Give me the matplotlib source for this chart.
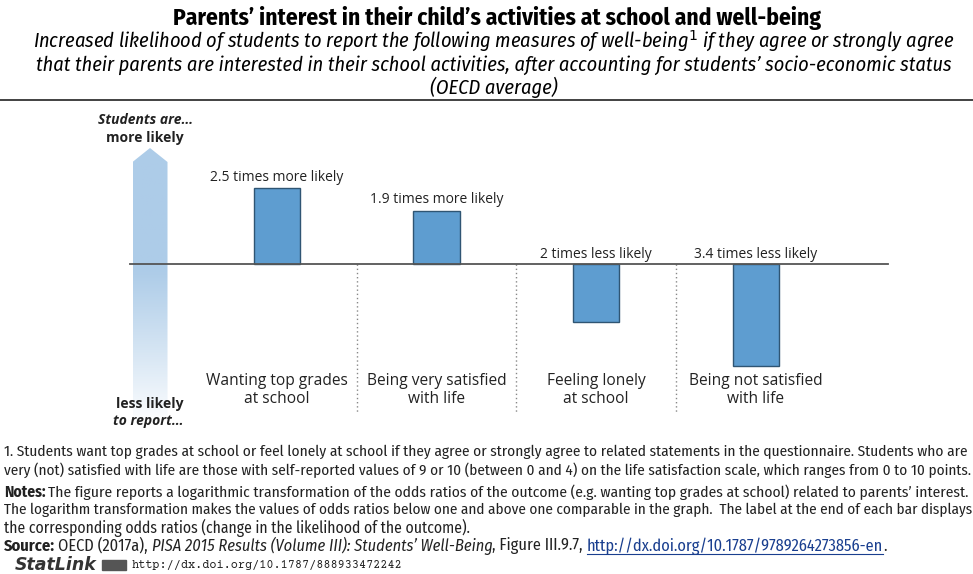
import numpy as np
import matplotlib
matplotlib.use("Agg")
import matplotlib.pyplot as plt
from matplotlib import font_manager as fm
from matplotlib.path import Path
from matplotlib.patches import PathPatch, Rectangle
from matplotlib.lines import Line2D

# Outcomes and their odds ratios (OECD average)
categories = ["Wanting top grades\nat school", "Being very satisfied\nwith life",
              "Feeling lonely\nat school", "Being not satisfied\nwith life"]
odds_ratios = [2.5, 1.9, 1 / 2, 1 / 3.4]

W, H = 973, 574
fig = plt.figure(figsize=(W / 100, H / 100), dpi=100)
fig.patch.set_facecolor("white")

installed = set(fm.fontManager.get_font_names())


def pick(cands, default="DejaVu Sans"):
    for c in cands:
        if c in installed:
            return [c, default]
    return [default]


NARROW = pick(["Fira Sans Condensed", "PT Sans Narrow", "Roboto Condensed", "Archivo Narrow",
               "Liberation Sans Narrow", "Open Sans Condensed", "Asap Condensed"])
LABEL = pick(["Open Sans", "Noto Sans"])
MONO = pick(["Courier Prime", "Liberation Mono", "DejaVu Sans Mono"], "DejaVu Sans Mono")

fig.canvas.draw()
R = fig.canvas.get_renderer()


def fx(x):
    return x / W


def fy(y):
    return 1 - y / H


def fit(t, target_px):
    """Scale a text's font size so its rendered width is target_px."""
    w = t.get_window_extent(R).width
    t.set_fontsize(t.get_fontsize() * target_px / w)
    return t


# ---- titles -------------------------------------------------------------
t = fig.text(fx(497), fy(18), "Parents\u2019 interest in their child\u2019s activities at school and well-being",
             ha="center", va="center", fontsize=14.5, fontweight="bold", family=NARROW)
fit(t, 650)
t = fig.text(fx(494), fy(63),
             "Increased likelihood of students to report the following measures of well-being$^{1}$ if they agree or strongly agree\n"
             "that their parents are interested in their school activities, after accounting for students\u2019 socio-economic status\n"
             "(OECD average)",
             ha="center", va="center", fontsize=13, style="italic", family=NARROW, linespacing=1.1)
fit(t, 922)
fig.add_artist(Line2D([0, 1], [fy(100), fy(100)], color="#333333", lw=1.3))

# ---- chart axes ---------------------------------------------------------
x0_px, step_px = 277, 159.6
scale_px = 83.0
ax_top, ax_bot = 105, 430
ax = fig.add_axes([0, fy(ax_bot), 1, (ax_bot - ax_top) / H])
ax.set_xlim(-x0_px / step_px, (W - x0_px) / step_px)
ax.set_ylim(-(ax_bot - 264) / scale_px, (264 - ax_top) / scale_px)
ax.axis("off")

xs = np.arange(len(categories))
log_or = np.log(odds_ratios)
ax.bar(xs, log_or, width=0.29, color="#5e9dd0", edgecolor="#2f5573", linewidth=1.0, zorder=3)

# zero line
xl = (130 - x0_px) / step_px
xr = (888 - x0_px) / step_px
ax.plot([xl, xr], [0, 0], color="#555555", lw=1.3, zorder=4)

# dotted separators
ybot = -(414 - 264) / scale_px
for i in range(len(categories) - 1):
    ax.plot([i + 0.5, i + 0.5], [0, ybot], color="#888888", lw=1.0, ls=(0, (1, 2)), zorder=2)

# value labels
for x, r, v in zip(xs, odds_ratios, log_or):
    if r >= 1:
        txt = f"{r:g} times more likely"
        ax.text(x, v + 0.04, txt, ha="center", va="bottom", fontsize=10, family=LABEL, color="#222222")
    else:
        txt = f"{1 / r:g} times less likely"
        ax.text(x, 0.03, txt, ha="center", va="bottom", fontsize=10, family=LABEL, color="#222222")

# category labels
for x, c in zip(xs, categories):
    ax.text(x, -(390 - 264) / scale_px, c, ha="center", va="center", fontsize=11.2,
            family=LABEL, color="#222222", linespacing=1.15)

# ---- gradient arrow -----------------------------------------------------
ac = (150 - x0_px) / step_px
aw = 35 / step_px / 2
ytip = (264 - 148) / scale_px
ysh = (264 - 162) / scale_px
yb = -(422 - 264) / scale_px
verts = [(ac - aw, yb), (ac - aw, ysh), (ac, ytip), (ac + aw, ysh), (ac + aw, yb), (ac - aw, yb)]
codes = [Path.MOVETO] + [Path.LINETO] * 4 + [Path.CLOSEPOLY]
clip = PathPatch(Path(verts, codes), facecolor="none", edgecolor="none")
ax.add_patch(clip)
n = 256
tt_ = np.linspace(0, 1, n)  # 0 bottom -> 1 top
alpha = np.clip(tt_ / 0.55, 0, 1) ** 0.9
top = np.array([0.68, 0.80, 0.91])
img = np.ones((n, 2, 3))
for k in range(3):
    img[:, :, k] = (1 - alpha[:, None]) * 1.0 + alpha[:, None] * top[k]
im = ax.imshow(img, origin="lower", extent=[ac - aw, ac + aw, yb, ytip], aspect="auto", zorder=1)
im.set_clip_path(clip)

fig.text(fx(145), fy(120), "Students are\u2026", ha="center", va="center", fontsize=10,
         fontweight="bold", style="italic", family=LABEL, color="#222222")
fig.text(fx(145), fy(138), "more likely", ha="center", va="center", fontsize=10,
         fontweight="bold", family=LABEL, color="#222222")
fig.text(fx(150), fy(404), "less likely", ha="center", va="center", fontsize=10,
         fontweight="bold", family=LABEL, color="#222222")
fig.text(fx(148), fy(421), "to report\u2026", ha="center", va="center", fontsize=10,
         fontweight="bold", style="italic", family=LABEL, color="#222222")

# ---- notes --------------------------------------------------------------
notes_col = "#222222"


def right(t):
    return t.get_window_extent(R).x1


def note_line(x0, y, runs, target, size=10.0):
    """Draw a line made of (text, style, weight, colour) runs, scaled to a target width."""
    def build(sz):
        arts, x = [], x0
        for s, st, wt, col in runs:
            a = fig.text(x / W, fy(y), s, ha="left", va="center", fontsize=sz, family=NARROW,
                         style=st, fontweight=wt, color=col)
            arts.append(a)
            x = right(a) + (3 if wt == "bold" else 0)
        return arts, x

    arts, xend = build(size)
    for a in arts:
        a.remove()
    arts, xend = build(size * target / (xend - x0))
    return arts


N, B = "normal", "bold"
note_line(4, 452, [("1. Students want top grades at school or feel lonely at school if they agree or strongly agree to related statements in the questionnaire. Students who are", "normal", N, notes_col)], 966)
note_line(4, 470, [("very (not) satisfied with life are those with self-reported values of 9 or 10 (between 0 and 4) on the life satisfaction scale, which ranges from 0 to 10 points.", "normal", N, notes_col)], 966)
note_line(4, 492, [("Notes:", "normal", B, notes_col),
                   ("The figure reports a logarithmic transformation of the odds ratios of the outcome (e.g. wanting top grades at school) related to parents\u2019 interest.", "normal", N, notes_col)], 966)
note_line(4, 510, [("The logarithm transformation makes the values of odds ratios below one and above one comparable in the graph.  The label at the end of each bar displays", "normal", N, notes_col)], 966)
note_line(4, 528, [("the corresponding odds ratios (change in the likelihood of the outcome).", "normal", N, notes_col)], 466)
src = note_line(4, 546, [("Source:", "normal", B, notes_col),
                         ("OECD (2017a), ", "normal", N, notes_col),
                         ("PISA 2015 Results (Volume III): Students\u2019 Well-Being", "italic", N, notes_col),
                         (", Figure III.9.7, ", "normal", N, notes_col),
                         ("http://dx.doi.org/10.1787/9789264273856-en", "normal", N, "#1a3f8f"),
                         (".", "normal", N, notes_col)], 884)
ub = src[4].get_window_extent(R)
fig.add_artist(Line2D([ub.x0 / W, ub.x1 / W], [(ub.y0 + 1) / H, (ub.y0 + 1) / H], color="#1a3f8f", lw=0.8))

sl = fig.text(fx(15), fy(565), "StatLink", ha="left", va="center", fontsize=10, fontweight="bold",
              style="italic", family=["DejaVu Sans"], color="#333333")
fit(sl, 82)
sb = sl.get_window_extent(R)
fig.add_artist(Rectangle(((sb.x1 + 5) / W, fy(570)), 24 / W, 10 / H, color="#555555"))
t = fig.text(fx(132), fy(565), "http://dx.doi.org/10.1787/888933472242", ha="left", va="center",
             fontsize=9.5, family=MONO, color="#222222")
fit(t, 273)

fig.savefig("out.png", dpi=100, facecolor="white")
